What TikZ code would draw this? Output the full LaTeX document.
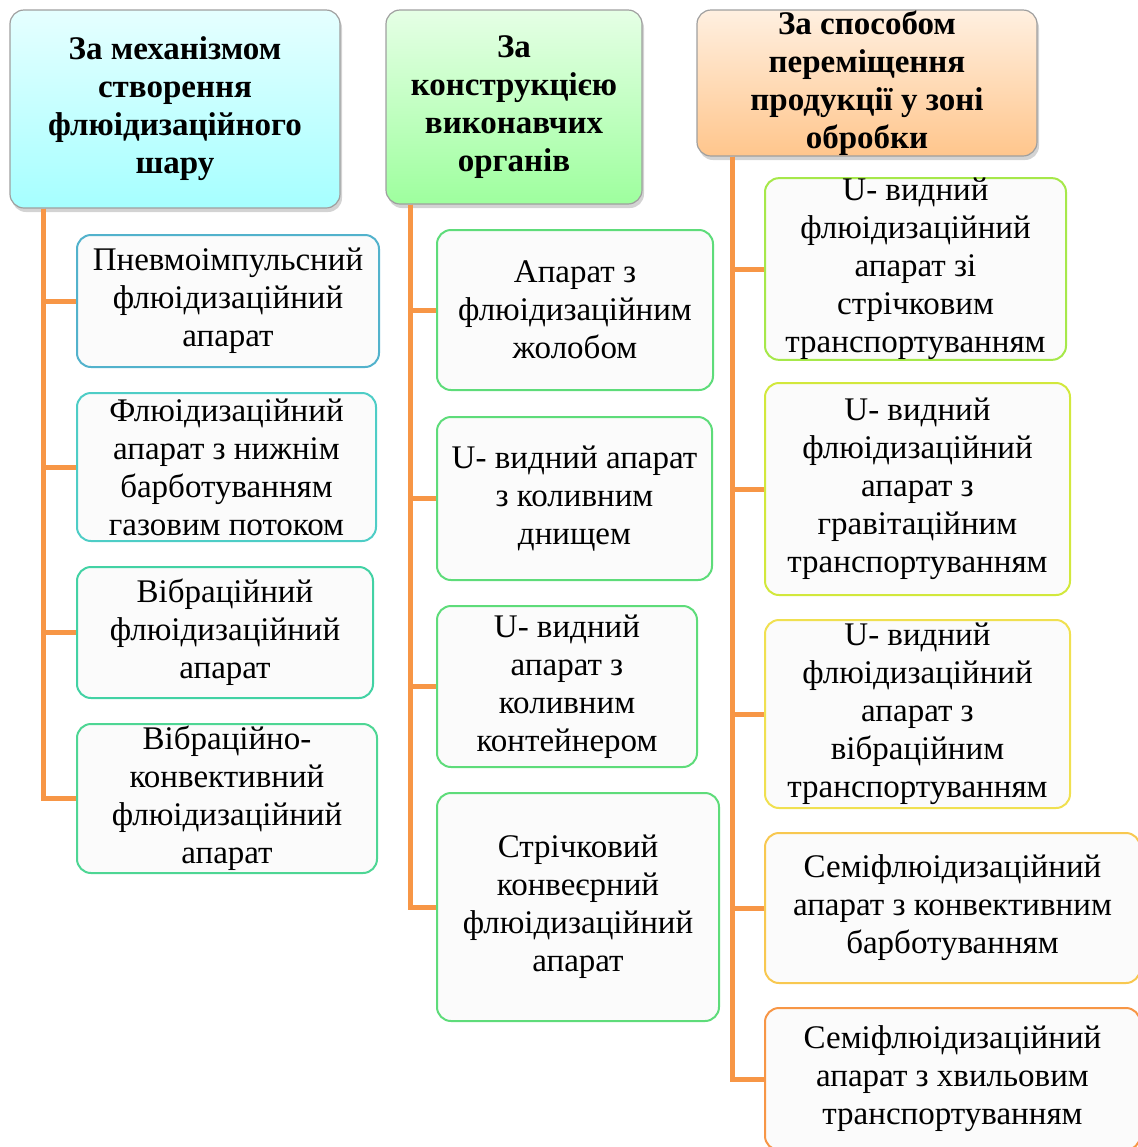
\documentclass[tikz,border=0pt]{standalone}
\usepackage{fontspec}
\setmainfont{LiberationSerif}[Extension=.ttf, UprightFont=*-Regular, BoldFont=*-Bold]
\usetikzlibrary{shadows, positioning}
\definecolor{trunkOrange}{HTML}{F79646}
\definecolor{boxFill}{HTML}{FBFBFB}
\definecolor{edgeA}{HTML}{52B2CC}
\definecolor{edgeB}{HTML}{4ECDC6}
\definecolor{edgeC}{HTML}{42D2A4}
\definecolor{edgeD}{HTML}{4ED694}
\definecolor{edgeE}{HTML}{5EDC7A}
\definecolor{edgeF}{HTML}{A6E84A}
\definecolor{edgeG}{HTML}{D2E83C}
\definecolor{edgeH}{HTML}{F0E050}
\definecolor{edgeI}{HTML}{F8C850}
\tikzset{
    catHead/.style={rectangle, rounded corners=7pt, draw=gray!75, line width=0.6pt, inner sep=0pt, align=center, font=\fontsize{16.5}{19}\selectfont\bfseries, drop shadow={shadow xshift=1pt, shadow yshift=-2pt, opacity=0.35}},
    itemBox/.style={rectangle, rounded corners=7pt, line width=1pt, fill=boxFill, inner sep=0pt, align=center, font=\fontsize{16.5}{19}\selectfont},
    branchLine/.style={draw=trunkOrange, line width=2.5pt},
}
\newcommand{\drawBranch}[3]{
    \draw[branchLine] ([xshift=#2]#1.south west) |- (#3.west);
}

\begin{document}
\begin{tikzpicture}[x=0.5pt, y=-0.5pt]
    \useasboundingbox (0,0) rectangle (1137,1147);

    % headers
    \node[catHead, top color=cyan!10, bottom color=cyan!35, minimum width=165pt, minimum height=99pt] (h1) at (175,109) {За механізмом\\створення\\флюідизаційного\\шару};
    \node[catHead, top color=green!10, bottom color=green!38, minimum width=128pt, minimum height=97pt] (h2) at (514,107) {За\\конструкцією\\виконавчих\\органів};
    \node[catHead, top color=orange!12, bottom color=orange!45, minimum width=170pt, minimum height=73pt] (h3) at (867,83) {За способом\\переміщення\\продукції у зоні\\обробки};

    % first column
    \node[itemBox, draw=edgeA, minimum width=151pt, minimum height=66pt] (c11) at (228,301) {Пневмоімпульсний\\флюідизаційний\\апарат};
    \node[itemBox, draw=edgeB, minimum width=149.5pt, minimum height=74pt] (c12) at (226.5,467) {Флюідизаційний\\апарат з нижнім\\барботуванням\\газовим потоком};
    \node[itemBox, draw=edgeC, minimum width=148pt, minimum height=65.5pt] (c13) at (225,632.5) {Вібраційний\\флюідизаційний\\апарат};
    \node[itemBox, draw=edgeD, minimum width=150pt, minimum height=74.5pt] (c14) at (227,798.5) {Вібраційно-\\конвективний\\флюідизаційний\\апарат};

    % second column
    \node[itemBox, draw=edgeE, minimum width=138pt, minimum height=80pt] (c21) at (575,310) {Апарат з\\флюідизаційним\\жолобом};
    \node[itemBox, draw=edgeE, minimum width=137.5pt, minimum height=81.5pt] (c22) at (574.5,498.5) {U- видний апарат\\з коливним\\днищем};
    \node[itemBox, draw=edgeE, minimum width=130pt, minimum height=80.5pt] (c23) at (567,686.5) {U- видний\\апарат з\\коливним\\контейнером};
    \node[itemBox, draw=edgeE, minimum width=141pt, minimum height=114pt] (c24) at (578,907) {Стрічковий\\конвеєрний\\флюідизаційний\\апарат};

    % third column
    \node[itemBox, draw=edgeF, minimum width=150.5pt, minimum height=88pt] (c31) at (915.5,269) {U- видний\\флюідизаційний\\апарат зі\\стрічковим\\транспортуванням};
    \node[itemBox, draw=edgeG, minimum width=152.5pt, minimum height=106pt] (c32) at (917.5,489) {U- видний\\флюідизаційний\\апарат з\\гравітаційним\\транспортуванням};
    \node[itemBox, draw=edgeH, minimum width=152.5pt, minimum height=94pt] (c33) at (917.5,714) {U- видний\\флюідизаційний\\апарат з\\вібраційним\\транспортуванням};
    \node[itemBox, draw=edgeI, minimum width=187.5pt, minimum height=75pt] (c34) at (952.5,908) {Семіфлюідизаційний\\апарат з конвективним\\барботуванням};
    \node[itemBox, draw=trunkOrange, minimum width=187.5pt, minimum height=71pt] (c35) at (952.5,1079) {Семіфлюідизаційний\\апарат з хвильовим\\транспортуванням};

    % branches
    \drawBranch{h1}{17pt}{c11}
    \drawBranch{h1}{17pt}{c12}
    \drawBranch{h1}{17pt}{c13}
    \drawBranch{h1}{17pt}{c14}
    \drawBranch{h2}{12.5pt}{c21}
    \drawBranch{h2}{12.5pt}{c22}
    \drawBranch{h2}{12.5pt}{c23}
    \drawBranch{h2}{12.5pt}{c24}
    \drawBranch{h3}{18pt}{c31}
    \drawBranch{h3}{18pt}{c32}
    \drawBranch{h3}{18pt}{c33}
    \drawBranch{h3}{18pt}{c34}
    \drawBranch{h3}{18pt}{c35}

\end{tikzpicture}
\end{document}
